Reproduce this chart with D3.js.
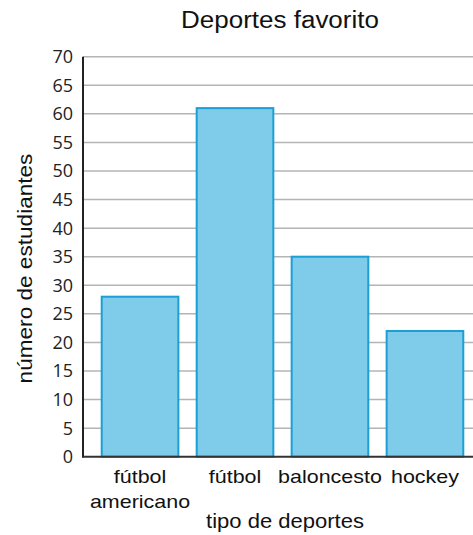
<!DOCTYPE html>
<html>
<head>
	<meta charset="utf-8">
	<title>Deportes favorito</title>
	<style type="text/css">
	body{
		margin:0;
		background:#fff;
	}
	text{
		font-family:"Liberation Sans", Arial, sans-serif;
		fill:#111;
	}
	.grid line{
		stroke:#b4b4b4;
		stroke-width:1.5;
	}
	.bar{
		fill:#7ecbea;
		stroke:#1b9fd5;
		stroke-width:2;
	}
	</style>
	<script type="text/javascript" src="https://cdn.jsdelivr.net/npm/d3@7"></script>
</head>
<body>
<script type="text/javascript">
	var width = 473;
	var height = 535;

	// datos
	var categories = ["fútbol americano", "fútbol", "baloncesto", "hockey"];
	var labelLines = [["fútbol", "americano"], ["fútbol"], ["baloncesto"], ["hockey"]];
	var values = [28, 61, 35, 22];
	var yTicks = [0, 5, 10, 15, 20, 25, 30, 35, 40, 45, 50, 55, 60, 65, 70];

	var plotLeft = 83, plotTop = 56.7, plotBottom = 456.7;
	var stretch = 1.13;   // el texto del original esta un poco ensanchado

	var svg = d3.select("body")
				.append("svg")
				.attr("width", width)
				.attr("height", height);

	var x = d3.scaleBand()
			.domain(categories)
			.range([plotLeft, 482])
			.paddingInner(0.193)
			.paddingOuter(0.197);

	var y = d3.scaleLinear()
			.domain([0, 70])
			.range([plotBottom, plotTop]);

	function wideText(g, tx, ty, rot){
		return g.append("text")
			.attr("transform", "translate(" + tx + "," + ty + ")" + (rot ? " rotate(" + rot + ")" : "") + " scale(" + stretch + ",1)");
	}

	//lineas de la cuadricula
	svg.append("g")
		.attr("class", "grid")
		.selectAll("line")
		.data(yTicks.filter(function(d){ return d > 0; }))
		.enter()
		.append("line")
		.attr("x1", plotLeft)
		.attr("x2", width)
		.attr("y1", function(d){ return y(d); })
		.attr("y2", function(d){ return y(d); });

	//etiquetas del eje y
	svg.append("g")
		.selectAll("text")
		.data(yTicks)
		.enter()
		.append("text")
		.attr("x", plotLeft - 10)
		.attr("y", function(d){ return y(d); })
		.attr("dy", "0.36em")
		.attr("text-anchor", "end")
		.style("font-family", "'Open Sans', sans-serif")
		.style("font-size", "18px")
		.style("fill", "#222")
		.text(function(d){ return d; });

	//barras
	svg.append("g")
		.selectAll("rect")
		.data(values)
		.enter()
		.append("rect")
		.attr("class", "bar")
		.attr("x", function(d, i){ return x(categories[i]); })
		.attr("y", function(d){ return y(d); })
		.attr("width", x.bandwidth())
		.attr("height", function(d){ return y(0) - y(d); });

	//ejes
	svg.append("line")
		.attr("x1", plotLeft).attr("x2", plotLeft)
		.attr("y1", y(70)).attr("y2", y(0) + 1)
		.style("stroke", "#222")
		.style("stroke-width", 2);

	svg.append("line")
		.attr("x1", plotLeft).attr("x2", width)
		.attr("y1", y(0)).attr("y2", y(0))
		.style("stroke", "#333")
		.style("stroke-width", 2);

	//etiquetas de categorias
	labelLines.forEach(function(lines, i){
		var cx = x(categories[i]) + x.bandwidth() / 2;
		lines.forEach(function(s, j){
			wideText(svg, cx, 483 + j * 25)
				.attr("text-anchor", "middle")
				.style("font-size", "19px")
				.text(s);
		});
	});

	//titulos
	wideText(svg, 280, 28.3)
		.attr("text-anchor", "middle")
		.style("font-size", "23px")
		.text("Deportes favorito");

	wideText(svg, 285, 528)
		.attr("text-anchor", "middle")
		.style("font-size", "19.5px")
		.text("tipo de deportes");

	wideText(svg, 32, 268.5, -90)
		.attr("text-anchor", "middle")
		.style("font-size", "20px")
		.text("número de estudiantes");
</script>
</body>
</html>
